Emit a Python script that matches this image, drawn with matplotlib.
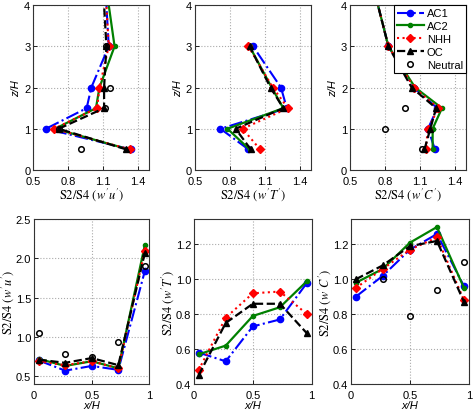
import matplotlib.pyplot as plt

plt.rcParams['font.family'] = ['Liberation Sans', 'DejaVu Sans']
plt.rcParams['mathtext.fontset'] = 'stix'
plt.rcParams['font.size'] = 8

# vertical profiles (top row)
z_prof = [0.5, 1, 1.5, 2, 3, 4]
z_neut = [0.5, 1, 1.5, 2, 3]

uu_ac1 = [1.34, 0.61, 0.96, 1.00, 1.15, 1.13]
uu_ac2 = [1.32, 0.69, 1.04, 1.07, 1.20, 1.15]
uu_nhh = [1.33, 0.68, 1.05, 1.07, 1.15, 1.13]
uu_oc = [1.30, 0.72, 1.11, 1.11, 1.13, 1.11]
uu_neut = [0.91, 0.72, 1.12, 1.16, 1.13]

tt_ac1 = [0.96, 0.72, 1.29, 1.24, 1.00]
tt_ac2 = [0.97, 0.78, 1.26, 1.16, 0.97]
tt_nhh = [1.06, 0.91, 1.30, 1.17, 0.96]
tt_oc = [0.98, 0.85, 1.26, 1.15, 0.97]

cc_ac1 = [1.23, 1.17, 1.25, 1.05, 0.83, 0.74]
cc_ac2 = [1.21, 1.21, 1.29, 1.06, 0.83, 0.74]
cc_nhh = [1.15, 1.17, 1.26, 1.05, 0.83, 0.74]
cc_oc = [1.14, 1.19, 1.24, 1.03, 0.83, 0.74]
cc_neut_z = [0.5, 1, 1.5]
cc_neut = [1.12, 0.80, 0.97]

# horizontal profiles (bottom row)
x_pos = [0.04, 0.27, 0.5, 0.73, 0.96]

hu_ac1 = [0.70, 0.57, 0.63, 0.58, 1.84]
hu_ac2 = [0.72, 0.63, 0.69, 0.60, 2.17]
hu_nhh = [0.69, 0.64, 0.69, 0.60, 2.10]
hu_oc = [0.71, 0.67, 0.73, 0.64, 2.07]
hu_neut = [1.05, 0.78, 0.75, 0.94, 1.90]

ht_ac1 = [0.58, 0.53, 0.73, 0.77, 0.98]
ht_ac2 = [0.57, 0.62, 0.79, 0.84, 0.99]
ht_nhh = [0.48, 0.78, 0.92, 0.93, 0.80]
ht_oc = [0.45, 0.75, 0.86, 0.86, 0.69]

hc_ac1 = [0.90, 1.02, 1.17, 1.26, 0.96]
hc_ac2 = [0.98, 1.06, 1.21, 1.30, 0.95]
hc_nhh = [0.95, 1.06, 1.17, 1.24, 0.88]
hc_oc = [1.00, 1.08, 1.19, 1.22, 0.87]
hc_neut_x = [0.27, 0.5, 0.73, 0.96]
hc_neut = [1.00, 0.79, 0.94, 1.10]

styles = {
    'AC1': dict(color='blue', ls='-.', marker='o', ms=4.5, lw=1.5),
    'AC2': dict(color='green', ls='-', marker='.', ms=6, lw=1.6),
    'NHH': dict(color='red', ls=':', marker='D', ms=4, lw=1.5),
    'OC': dict(color='black', ls='--', marker='^', ms=4.5, lw=1.6),
}
neut_style = dict(color='black', ls='none', marker='o', ms=4, mfc='none', mew=1.1)

fig = plt.figure(figsize=(4.73, 4.10), dpi=100)


def style_ax(ax):
    ax.grid(True, ls=':', color='#aaaaaa', lw=0.8)
    ax.tick_params(direction='in', length=3, width=0.6, pad=2)
    ax.tick_params(axis='x', pad=4)
    for s in ax.spines.values():
        s.set_linewidth(0.8)
        s.set_color('#333333')


def vert_panel(rect, series, neut, label):
    ax = fig.add_axes(rect)
    for name, vals in series:
        z = z_prof[:len(vals)]
        ax.plot(vals, z, label=name, markevery=slice(0, 5), **styles[name])
    if neut is not None:
        ax.plot(neut[1], neut[0], label='Neutral', **neut_style)
    ax.set_xlim(0.5, 1.5)
    ax.set_ylim(0, 4)
    ax.set_xticks([0.5, 0.8, 1.1, 1.4])
    ax.set_yticks([0, 1, 2, 3, 4])
    ax.set_xlabel(label, fontsize=9, labelpad=0)
    ax.set_ylabel('z/H', style='italic', labelpad=2)
    style_ax(ax)
    return ax


def horz_panel(rect, series, neut, label, ylim, yticks):
    ax = fig.add_axes(rect)
    for name, vals in series:
        ax.plot(x_pos, vals, label=name, **styles[name])
    if neut is not None:
        ax.plot(neut[0], neut[1], label='Neutral', **neut_style)
    ax.set_xlim(0, 1)
    ax.set_ylim(*ylim)
    ax.set_xticks([0, 0.5, 1])
    ax.set_xticklabels(['0', '0.5', '1'])
    ax.set_yticks(yticks)
    ax.set_xlabel('x/H', style='italic', labelpad=0)
    ax.set_ylabel(label, fontsize=9, labelpad=0)
    style_ax(ax)
    return ax


w, h = 0.246, 0.402
top_y = 0.583
bot_y = 0.061

vert_panel([0.070, top_y, w, h],
           [('AC1', uu_ac1), ('AC2', uu_ac2), ('NHH', uu_nhh), ('OC', uu_oc)],
           (z_neut, uu_neut), r"$\mathrm{S2/S4}\ (w'u')$")
vert_panel([0.412, top_y, w, h],
           [('AC1', tt_ac1), ('AC2', tt_ac2), ('NHH', tt_nhh), ('OC', tt_oc)],
           None, r"$\mathrm{S2/S4}\ (w'T')$")
ax3 = vert_panel([0.740, top_y, w, h],
                 [('AC1', cc_ac1), ('AC2', cc_ac2), ('NHH', cc_nhh), ('OC', cc_oc)],
                 (cc_neut_z, cc_neut), r"$\mathrm{S2/S4}\ (w'C')$")
leg = ax3.legend(loc='upper right', fontsize=8, handlelength=2.4, handletextpad=0.3,
                 borderpad=0.3, labelspacing=0.25, borderaxespad=0.0,
                 fancybox=False, framealpha=1, edgecolor='black')
leg.get_frame().set_linewidth(0.8)

ax_b1 = horz_panel([0.072, bot_y, w - 0.002, h],
                   [('AC1', hu_ac1), ('AC2', hu_ac2), ('NHH', hu_nhh), ('OC', hu_oc)],
                   (x_pos, hu_neut), r"$\mathrm{S2/S4}\ (w'u')$", (0.4, 2.5),
                   [0.5, 1, 1.5, 2, 2.5])
horz_panel([0.410, bot_y, w + 0.003, h],
           [('AC1', ht_ac1), ('AC2', ht_ac2), ('NHH', ht_nhh), ('OC', ht_oc)],
           None, r"$\mathrm{S2/S4}\ (w'T')$", (0.4, 1.345),
           [0.4, 0.6, 0.8, 1, 1.2])
horz_panel([0.742, bot_y, w + 0.003, h],
           [('AC1', hc_ac1), ('AC2', hc_ac2), ('NHH', hc_nhh), ('OC', hc_oc)],
           (hc_neut_x, hc_neut), r"$\mathrm{S2/S4}\ (w'C')$", (0.4, 1.345),
           [0.4, 0.6, 0.8, 1, 1.2])

fig.savefig('out.png', dpi=100)
